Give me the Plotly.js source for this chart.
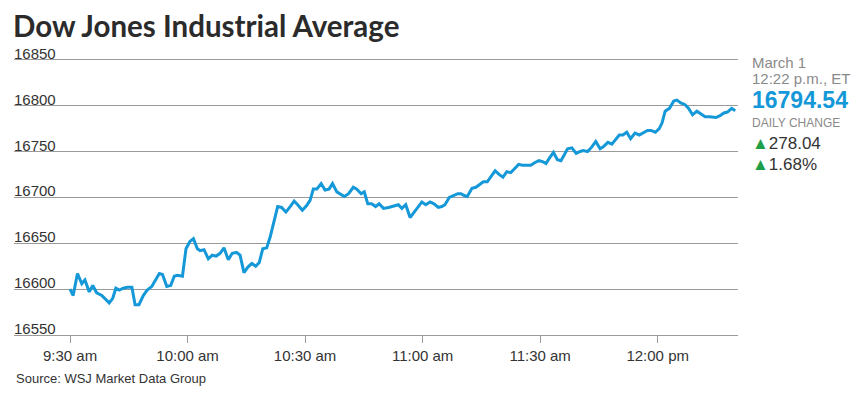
<!DOCTYPE html>
<html>
<head>
<meta charset="utf-8">
<script src="https://cdn.plot.ly/plotly-3.0.1.min.js"></script>
<style>
  html, body { margin: 0; padding: 0; background: #fff; }
  #chart { width: 864px; height: 402px; }
</style>
</head>
<body>
<div id="chart"></div>
<script>
// Minutes after the 9:30 am open
const minutesAfterOpen = [
  0,0.8,1.9,3.0,3.8,4.9,5.8,6.8,8.1,8.9,
  10.0,10.9,11.7,12.6,13.6,14.6,15.8,16.6,17.6,18.7,
  19.7,20.9,21.9,22.8,23.6,24.7,25.7,26.6,27.4,28.7,
  29.6,30.6,31.5,32.5,33.2,34.2,35.3,36.3,37.3,38.3,
  39.3,40.4,41.4,42.5,43.4,44.4,45.4,46.4,47.4,48.3,
  49.2,50.2,51.1,52.2,53.0,54.0,55.1,56.2,57.2,58.1,
  59.3,60.4,61.3,62.1,63.0,64.1,65.1,66.1,67.0,68.1,
  68.9,70.0,71.1,72.3,73.2,74.3,75.1,76.0,77.0,78.0,
  78.9,80.0,81.3,82.1,83.0,83.8,84.7,85.7,86.8,87.8,
  88.9,89.8,90.8,91.9,92.9,94.0,94.9,95.7,96.8,97.9,
  99.0,99.8,100.6,101.4,102.6,103.6,104.7,105.5,106.5,107.5,
  108.5,109.5,110.5,111.5,112.5,113.4,114.5,115.5,116.6,117.6,
  118.7,119.7,120.6,121.5,122.4,123.4,124.4,125.3,126.1,127.0,
  128.1,129.2,130.2,131.0,132.1,133.2,134.2,135.3,136.1,137.3,
  138.3,139.1,140.2,141.1,142.1,143.1,144.2,145.3,146.4,147.4,
  148.3,149.4,150.4,151.1,151.9,153.0,154.1,154.9,155.9,157.0,
  157.9,158.9,160.0,161.0,162.1,163.2,164.2,164.9,165.9,166.9,
  167.8,168.9,169.8
];

// Dow Jones Industrial Average level
const dowValues = [
  16600,16593,16617,16606,16610,16597,16604,16596,16593,16590,
  16585,16590,16601,16599,16601,16602,16602,16583,16583,16593,
  16599,16603,16610,16617,16616,16603,16604,16614,16615,16614,
  16644,16652,16655,16644,16642,16643,16633,16637,16636,16639,
  16645,16632,16639,16640,16637,16618,16624,16628,16625,16629,
  16644,16645,16657,16675,16690,16689,16684,16690,16696,16692,
  16686,16691,16697,16709,16709,16715,16708,16709,16715,16706,
  16704,16701,16704,16711,16709,16704,16706,16693,16693,16690,
  16693,16688,16689,16690,16691,16692,16688,16692,16678,16684,
  16690,16695,16692,16695,16693,16689,16690,16692,16700,16702,
  16704,16704,16702,16701,16710,16711,16714,16717,16717,16723,
  16729,16725,16722,16728,16727,16731,16736,16735,16735,16735,
  16738,16740,16739,16737,16743,16749,16741,16740,16746,16753,
  16754,16748,16750,16751,16750,16755,16761,16753,16755,16760,
  16758,16762,16768,16768,16771,16764,16770,16768,16771,16773,
  16773,16771,16775,16781,16794,16797,16805,16806,16803,16801,
  16797,16790,16794,16791,16788,16788,16787,16787,16789,16792,
  16793,16797,16794.54
];

const xTickMinutes = [0, 30, 60, 90, 120, 150];
const xTickLabels = ['9:30 am', '10:00 am', '10:30 am', '11:00 am', '11:30 am', '12:00 pm'];
const yTickValues = [16550, 16600, 16650, 16700, 16750, 16800, 16850];

const chartTitle = 'Dow Jones Industrial Average';
const quoteDate = 'March 1';
const quoteTime = '12:22 p.m., ET';
const lastValue = '16794.54';
const changeLabel = 'DAILY CHANGE';
const pointChange = '278.04';
const percentChange = '1.68%';
const sourceNote = 'Source: WSJ Market Data Group';

const LINE = '#1598d8';
const GRID = '#9a9a9a';
const TEXT = '#333333';
const GREY = '#8a8a8a';
const GREEN = '#1f9e48';
const FONT = 'Liberation Sans, Arial, sans-serif';

// plot area geometry (px)
const L = 14, R = 738, T = 57, B = 335;
const W = 864, H = 402;
const px2paperX = px => (px - L) / (R - L);
const px2paperY = py => (B - py) / (B - T);

const trace = {
  x: minutesAfterOpen,
  y: dowValues,
  type: 'scatter',
  mode: 'lines',
  line: { color: LINE, width: 3, shape: 'linear' },
  hoverinfo: 'skip'
};

const sideAnn = (text, py, size, color, bold) => ({
  xref: 'paper', yref: 'paper',
  x: px2paperX(750), y: px2paperY(py),
  xanchor: 'left', yanchor: 'middle',
  showarrow: false,
  text: bold ? '<b>' + text + '</b>' : text,
  font: { family: FONT, size: size, color: color }
});

const tri = '<span style="color:' + GREEN + '">\u25B2</span>';

// y-axis labels sit above each gridline, left-aligned
const yLabelAnns = yTickValues.map(v => ({
  xref: 'paper', yref: 'y',
  x: 0, y: v,
  xanchor: 'left', yanchor: 'bottom',
  xshift: -2, yshift: -4,
  showarrow: false,
  text: String(v),
  font: { family: FONT, size: 15, color: TEXT }
}));

const layout = {
  width: W, height: H,
  margin: { l: L, r: W - R, t: T, b: H - B, pad: 0 },
  paper_bgcolor: '#ffffff',
  plot_bgcolor: '#ffffff',
  showlegend: false,
  title: {
    text: '<b>' + chartTitle + '</b>',
    xref: 'container', yref: 'container',
    x: 13 / W, xanchor: 'left',
    y: 1 - 27 / H, yanchor: 'middle',
    font: { family: 'Lato, Liberation Sans, sans-serif', size: 29.5, color: '#2b2b2b' }
  },
  xaxis: {
    range: [-14.3, 170.5],
    tickmode: 'array',
    tickvals: xTickMinutes,
    ticktext: xTickLabels,
    ticks: 'outside', ticklen: 7, tickwidth: 1, tickcolor: GRID,
    showline: true, linecolor: GRID, linewidth: 1,
    showgrid: false, zeroline: false,
    tickfont: { family: FONT, size: 15, color: TEXT },
    fixedrange: true
  },
  yaxis: {
    range: [16550, 16853],
    tickmode: 'array',
    tickvals: yTickValues,
    showticklabels: false,
    ticks: '',
    showgrid: true, gridcolor: GRID, gridwidth: 1,
    showline: false, zeroline: false,
    fixedrange: true
  },
  annotations: yLabelAnns.concat([
    sideAnn(quoteDate, 62, 15, GREY, false),
    sideAnn(quoteTime, 78, 15, GREY, false),
    sideAnn(lastValue, 100, 23, LINE, true),
    sideAnn(changeLabel, 123, 12, GREY, false),
    sideAnn(tri + pointChange, 143, 17, TEXT, false),
    sideAnn(tri + percentChange, 164.5, 17, TEXT, false),
    {
      xref: 'paper', yref: 'paper',
      x: 0, y: px2paperY(378),
      xanchor: 'left', yanchor: 'middle',
      showarrow: false,
      text: sourceNote,
      font: { family: FONT, size: 13, color: TEXT }
    }
  ])
};

Plotly.newPlot('chart', [trace], layout, { displayModeBar: false, staticPlot: true });
</script>
</body>
</html>
